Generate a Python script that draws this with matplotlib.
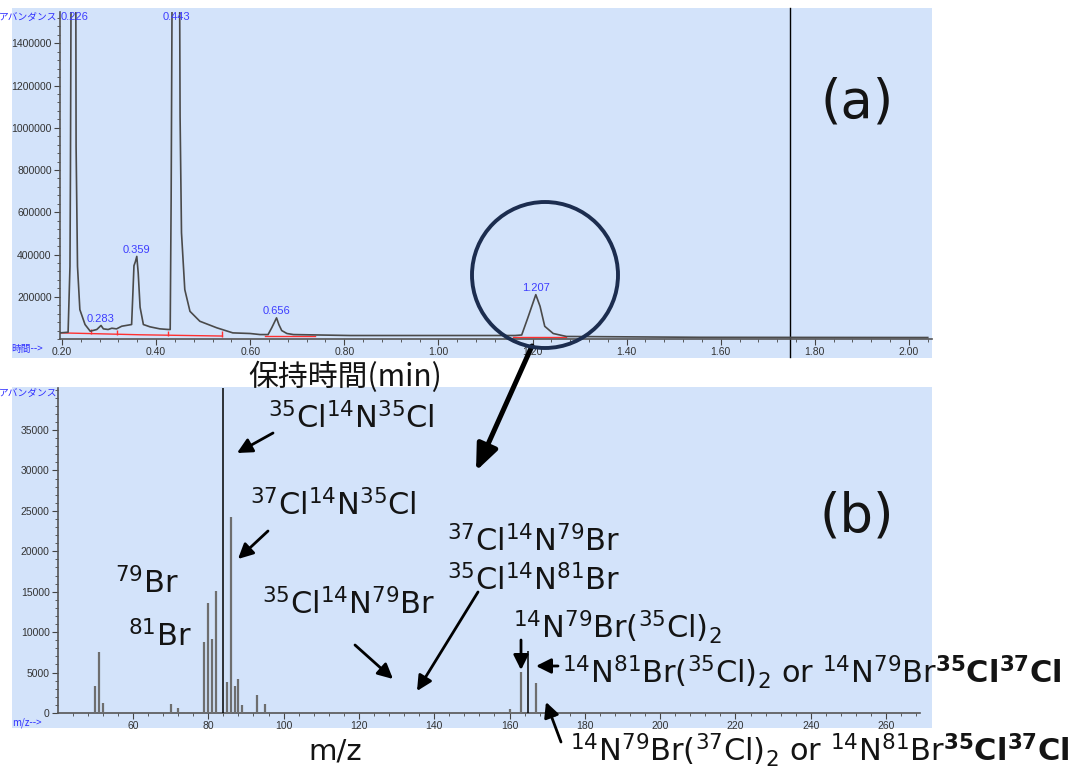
import numpy as np
import matplotlib
matplotlib.use("Agg")
import matplotlib.pyplot as plt
from matplotlib.patches import Rectangle, Ellipse, FancyArrowPatch
from matplotlib.ticker import MultipleLocator, FormatStrFormatter, FixedLocator

W, H = 1079, 776

# (a) chromatogram
rt_min = [0.196, 0.213, 0.217, 0.218, 0.226, 0.230, 0.233, 0.238, 0.249, 0.260,
          0.274, 0.283, 0.288, 0.298, 0.306, 0.316, 0.327, 0.348, 0.351, 0.353,
          0.356, 0.359, 0.362, 0.366, 0.373, 0.387, 0.408, 0.426, 0.430, 0.432,
          0.443, 0.451, 0.454, 0.461, 0.472, 0.493, 0.529, 0.563, 0.600, 0.621,
          0.638, 0.646, 0.656, 0.661, 0.667, 0.678, 0.692, 0.812, 1.163, 1.177,
          1.190, 1.207, 1.216, 1.226, 1.244, 1.272, 1.556, 2.040]
abundance = [29000, 32000, 344000, 801000, 6000000, 911000, 344000, 139000, 68500, 37000,
             45000, 64000, 48000, 45000, 51000, 48000, 60500, 68500, 234000, 347000,
             366000, 391000, 313000, 150000, 68500, 57700, 48000, 45000, 45000, 660000,
             6000000, 1053000, 503000, 234000, 131000, 84000, 53000, 29000, 26000, 21000,
             21000, 54000, 100000, 68000, 40000, 26000, 21000, 16500, 16500, 19000,
             100000, 210000, 155000, 60000, 26000, 12000, 8000, 7000]

# integration baselines (red) and their split marks
base_segments = [([0.198, 0.366, 0.541], [29000, 20000, 14000]),
                 ([0.632, 0.738], [15000, 15000]),
                 ([1.159, 1.272], [10400, 10400])]
split_rt = [0.261, 0.316, 0.425, 0.541]
split_base = [25500, 22500, 17500, 14000]

peak_rt = [0.226, 0.283, 0.359, 0.443, 0.656, 1.207]
cursor_rt = 1.747

# (b) mass spectrum
mz = [50, 51, 52, 70, 72, 74, 78, 79, 80, 81, 82, 84, 85, 86, 87, 88, 89, 93, 95,
      114, 116, 118, 158, 160, 163, 165, 167, 169, 170]
intensity = [3350, 7600, 1250, 1070, 580, 170, 170, 8800, 13550, 9100, 15100, 40200,
             3880, 24250, 3350, 4170, 950, 2190, 1070, 170, 80, 120, 100, 540, 5040,
             7670, 3680, 100, 100]
dark_mz = [84, 165]

BLUE = "#d3e3fa"
TICKFONT = ["Liberation Sans", "DejaVu Sans"]
CJK = ["Noto Sans CJK JP", "DejaVu Sans"]

plt.rcParams["mathtext.fontset"] = "dejavusans"
fig = plt.figure(figsize=(W / 100, H / 100), dpi=100)


def fxy(x, y):
    return (x / W, 1 - y / H)


def panel(x0, y0, x1, y1):
    fig.add_artist(Rectangle(fxy(x0, y1), (x1 - x0) / W, (y1 - y0) / H,
                             transform=fig.transFigure, facecolor=BLUE,
                             edgecolor="none", zorder=-5))


def style_axes(ax):
    ax.set_facecolor("none")
    for s in ["top", "right"]:
        ax.spines[s].set_visible(False)
    for s in ["left", "bottom"]:
        ax.spines[s].set_color("#555555")
        ax.spines[s].set_linewidth(1.2)
    ax.tick_params(which="major", direction="out", length=4, width=0.8, color="#444444",
                   labelsize=7.5, labelcolor="#333333", pad=2)
    ax.tick_params(which="minor", direction="out", length=2, width=0.6, color="#444444")
    for lab in ax.get_xticklabels() + ax.get_yticklabels():
        lab.set_family(TICKFONT)


panel(12, 8, 932, 358)
panel(12, 387, 932, 728)

# ---- (a) chromatogram
ax_a = fig.add_axes([60 / W, 1 - 339 / H, 872 / W, 327 / H])
ax_a.plot(rt_min, abundance, color="#4a4a4a", lw=1.2, zorder=3)
for seg_t, seg_a in base_segments:
    ax_a.plot(seg_t, seg_a, color="#ff3030", lw=1.0, zorder=2)
ax_a.vlines(split_rt, np.array(split_base) - 4000, np.array(split_base) + 22000,
            color="#ff3030", lw=1.0, zorder=2)
ax_a.axvline(cursor_rt, ymin=-0.055, ymax=1.012, color="black", lw=1.0, clip_on=False)
ax_a.set_xlim(0.1958, 2.049)
ax_a.set_ylim(0, 1548000)
ax_a.xaxis.set_major_locator(MultipleLocator(0.2))
ax_a.xaxis.set_minor_locator(MultipleLocator(0.04))
ax_a.xaxis.set_major_formatter(FormatStrFormatter("%.2f"))
ax_a.yaxis.set_major_locator(FixedLocator(np.arange(200000, 1400001, 200000)))
ax_a.yaxis.set_minor_locator(MultipleLocator(40000))
ax_a.yaxis.set_major_formatter(FormatStrFormatter("%d"))
style_axes(ax_a)

top = ax_a.get_ylim()[1]
for rt in peak_rt:
    h = np.interp(rt, rt_min, abundance)
    if h >= top:
        ax_a.text(rt, top, f"{rt:.3f}", ha="center", va="top", fontsize=8,
                  color="#3d3dff", family=TICKFONT)
    else:
        ax_a.annotate(f"{rt:.3f}", (rt, h), xytext=(0, 1), textcoords="offset points",
                      ha="center", va="bottom", fontsize=8, color="#3d3dff",
                      family=TICKFONT)

# ---- (b) mass spectrum
ax_b = fig.add_axes([58 / W, 1 - 713 / H, 862 / W, 325 / H])
cols = ["black" if m in dark_mz else "#6e6e6e" for m in mz]
lws = [1.1 if m in dark_mz else 1.6 for m in mz]
ax_b.vlines(mz, 0, intensity, colors=cols, linewidths=lws, zorder=3)
ax_b.set_xlim(40.1, 269)
ax_b.set_ylim(0, 40200)
ax_b.xaxis.set_major_locator(MultipleLocator(20))
ax_b.xaxis.set_minor_locator(MultipleLocator(4))
ax_b.yaxis.set_major_locator(FixedLocator(np.arange(0, 35001, 5000)))
ax_b.yaxis.set_minor_locator(MultipleLocator(1000))
ax_b.yaxis.set_major_formatter(FormatStrFormatter("%d"))
style_axes(ax_b)

# software axis captions
for txt, x, y in [("アバンダンス", 57, 17), ("時間-->", 43, 349),
                  ("アバンダンス", 57, 393), ("m/z-->", 42, 723)]:
    fig.text(*fxy(x, y), txt, ha="right", va="center", fontsize=7, color="#3030ff",
             family=CJK)

# ---- overlay text
LAB = dict(fontsize=22, color="#141414", family="DejaVu Sans", va="baseline", ha="left")
fig.text(*fxy(857, 117), "(a)", fontsize=38, color="#141414", ha="center", va="baseline")
fig.text(*fxy(857, 532), "(b)", fontsize=38, color="#141414", ha="center", va="baseline")
fig.text(*fxy(345, 386), "保持時間(min)", fontsize=21.5, color="#141414", ha="center",
         va="baseline", family=CJK)
fig.text(*fxy(335, 760), "m/z", fontsize=21, color="#141414", ha="center", va="baseline")

BOLD_TAIL = r"$\mathbf{^{35}Cl^{37}Cl}$"
labels = [(r"$^{35}$Cl$^{14}$N$^{35}$Cl", 268, 428),
          (r"$^{37}$Cl$^{14}$N$^{35}$Cl", 250, 515),
          (r"$^{79}$Br", 115, 593),
          (r"$^{81}$Br", 128, 646),
          (r"$^{35}$Cl$^{14}$N$^{79}$Br", 262, 614),
          (r"$^{37}$Cl$^{14}$N$^{79}$Br", 447, 551),
          (r"$^{35}$Cl$^{14}$N$^{81}$Br", 447, 590),
          (r"$^{14}$N$^{79}$Br($^{35}$Cl)$_2$", 513, 638),
          (r"$^{14}$N$^{81}$Br($^{35}$Cl)$_2$ or $^{14}$N$^{79}$Br" + BOLD_TAIL, 562, 683),
          (r"$^{14}$N$^{79}$Br($^{37}$Cl)$_2$ or $^{14}$N$^{81}$Br" + BOLD_TAIL, 570, 761)]
for txt, x, y in labels:
    fig.text(*fxy(x, y), txt, **LAB)

arrows = [((273, 433), (237, 453)),
          ((268, 531), (238, 559)),
          ((355, 645), (393, 679)),
          ((478, 592), (417, 691)),
          ((521, 640), (521, 670)),
          ((558, 666), (536, 666)),
          ((561, 742), (546, 702))]
for tail, head in arrows:
    fig.add_artist(FancyArrowPatch(
        fxy(*tail), fxy(*head), transform=fig.transFigure,
        arrowstyle="-|>,head_length=0.5,head_width=0.25",
        mutation_scale=18, lw=2.0, color="black", shrinkA=0, shrinkB=0, zorder=6))

fig.add_artist(FancyArrowPatch(
    fxy(532, 346), fxy(476, 471), transform=fig.transFigure,
    arrowstyle="-|>,head_length=0.6,head_width=0.25",
    mutation_scale=26, lw=3.6, color="black", shrinkA=0, shrinkB=0, zorder=6))

fig.add_artist(Ellipse(fxy(545, 275), 146 / W, 146 / H, transform=fig.transFigure,
                       fill=False, edgecolor="#1c2d4f", lw=2.8, zorder=6))

fig.savefig("out.png", dpi=100)
